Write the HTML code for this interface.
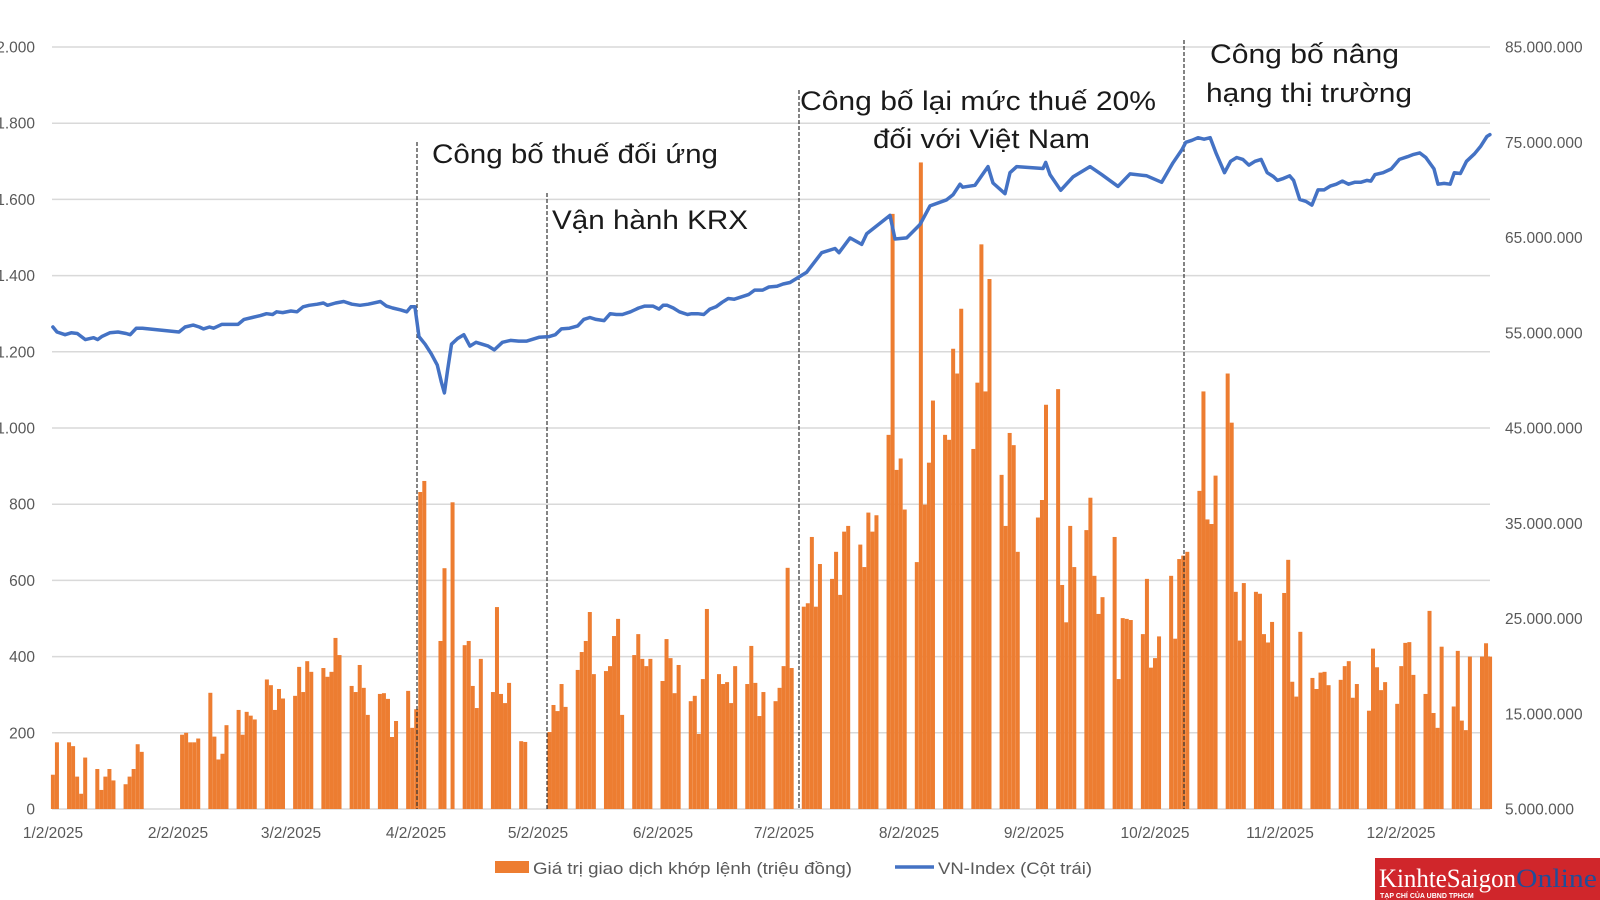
<!DOCTYPE html>
<html><head><meta charset="utf-8">
<style>
html,body{margin:0;padding:0;background:#fff;}
svg{display:block;}
text{font-family:"Liberation Sans","DejaVu Sans",sans-serif;}
</style></head>
<body>
<svg id="c" width="1600" height="900" viewBox="0 0 1600 900" xmlns="http://www.w3.org/2000/svg">
<g id="grid"></g>
<g id="bars" fill="#ED7D31"></g>
<g id="vl" stroke="#333" stroke-width="1.2" stroke-dasharray="4,2"></g>
<polyline id="line" fill="none" stroke="#4472C4" stroke-width="3.5" stroke-linejoin="round" stroke-linecap="round"/>
<g id="lab" fill="#595959" font-size="15.5"></g>
<g fill="#1a1a1a" font-size="27">
<text x="432" y="163" textLength="286" lengthAdjust="spacingAndGlyphs">Công bố thuế đối ứng</text>
<text x="552" y="229" textLength="196" lengthAdjust="spacingAndGlyphs">Vận hành KRX</text>
<text x="800" y="110" textLength="356" lengthAdjust="spacingAndGlyphs">Công bố lại mức thuế 20%</text>
<text x="873" y="148" textLength="217" lengthAdjust="spacingAndGlyphs">đối với Việt Nam</text>
<text x="1210" y="63" textLength="189" lengthAdjust="spacingAndGlyphs">Công bố nâng</text>
<text x="1206" y="102" textLength="206" lengthAdjust="spacingAndGlyphs">hạng thị trường</text>
</g>
<rect x="495" y="861" width="34" height="12" fill="#ED7D31"/>
<text x="533" y="874" font-size="17" fill="#595959" textLength="319" lengthAdjust="spacingAndGlyphs">Giá trị giao dịch khớp lệnh (triệu đồng)</text>
<line x1="895" y1="867" x2="934" y2="867" stroke="#4472C4" stroke-width="3.5"/>
<text x="938" y="874" font-size="17" fill="#595959" textLength="154" lengthAdjust="spacingAndGlyphs">VN-Index (Cột trái)</text>
<rect x="1375" y="858" width="225" height="42" fill="#D0262B"/>
<text x="1379" y="887" style="font-family:'Liberation Serif',serif" font-size="26" fill="#fff" textLength="137" lengthAdjust="spacingAndGlyphs">KinhteSaigon</text>
<text x="1516" y="887" style="font-family:'Liberation Serif',serif" font-size="26" fill="#1F4E9A" textLength="81" lengthAdjust="spacingAndGlyphs">Online</text>
<text x="1380" y="898" font-size="7" fill="#fff" font-weight="bold">TẠP CHÍ CỦA UBND TPHCM</text>
</svg>
<script>
var NS="http://www.w3.org/2000/svg";
function el(p,t,a,txt){var e=document.createElementNS(NS,t);for(var k in a)e.setAttribute(k,a[k]);if(txt!=null)e.textContent=txt;document.getElementById(p).appendChild(e);return e;}
function Y(v){return 809-v*0.381;}
for(var i=0;i<=10;i++){var v=i*200,y=Y(v);
 el("grid","line",{x1:52,x2:1490,y1:y,y2:y,stroke:"#D9D9D9","stroke-width":1.5});
 var s=v>=1000?(Math.floor(v/1000)+"."+("00"+(v%1000)).slice(-3)):String(v);
 el("lab","text",{x:35,y:y+5.5,"text-anchor":"end"},s);}
for(var m=5;m<=85;m+=10){var y=809-(m-5)*9.525;
 el("lab","text",{x:1505,y:y+5.5},m+".000.000");}
var xl=[["1/2/2025",53],["2/2/2025",178],["3/2/2025",291],["4/2/2025",416],["5/2/2025",538],["6/2/2025",663],["7/2/2025",784],["8/2/2025",909],["9/2/2025",1034],["10/2/2025",1155],["11/2/2025",1280],["12/2/2025",1401]];
xl.forEach(function(a){el("lab","text",{x:a[1],y:838,"text-anchor":"middle"},a[0]);});
var W=[[0,0,0,90,175],[175,165,85,40,135],[105,50,85,105,75],[65,85,105,170,150],[0,0,0,0,0],
[195,200,175,175,185],[305,190,130,145,220],[260,195,255,245,235],[340,325,260,315,290],
[297,373,307,388,360],[370,347,360,449,404],[323,307,378,318,247],[302,304,289,189,231],
[310,213,262,832,861],[0,441,632,0,805],[430,441,323,265,394],[307,530,302,278,331],[178,176,0,0,0],
[202,273,257,328,268],[365,412,441,517,354],[362,375,454,499,247],[404,459,394,375,394],
[336,446,396,304,378],[283,297,197,341,525],[354,328,333,278,375],[328,428,331,244,307],
[283,318,375,633,370],[531,540,714,531,643],[604,675,562,728,743],[694,635,778,728,771],
[982,1562,890,920,786],[648,1697,799,909,1072],[982,969,1208,1143,1313],[945,1119,1482,1096,1391],
[877,743,987,955,675],[0,0,765,811,1061],[1102,588,490,743,635],[732,817,612,512,556],
[714,341,501,499,496],[459,604,371,396,453],[612,447,656,665,675],[835,1096,760,748,875],
[1143,1014,570,442,593],[570,565,459,437,491],[567,654,334,295,465],[344,315,358,360,325],
[339,375,388,292,328],[258,421,372,312,333],[276,375,436,438,352],[302,520,252,213,426],
[269,415,232,207,400],[400,435,400,0,0]];
W.forEach(function(w,k){w.forEach(function(v,j){if(!v)return;var d=-1+7*k+j;var x=52.9+(d-2)*4.037;
 el("bars","rect",{x:x-2,y:Y(v),width:4.0,height:809-Y(v)});});});
[[417,142],[547,193],[799,90],[1184,40]].forEach(function(a){el("vl","line",{x1:a[0],x2:a[0],y1:a[1],y2:809});});
var E1=[52,1265,56,1252,64,1245,70,1250,76,1248,80,1240,84,1232,92,1237,96,1232,100,1240,108,1250,116,1252,124,1248,128,1245,134,1262,140,1262,176,1252,182,1265,190,1270,196,1265,200,1260,206,1265,210,1262,218,1272,226,1272,234,1272,240,1285,248,1290,256,1295,262,1300,268,1298,272,1305,278,1303,286,1307,292,1305,298,1318,304,1322,312,1325,318,1328,322,1322,330,1328,338,1332,346,1325,354,1322,362,1325,374,1332,380,1320,386,1315,394,1310,400,1305,404,1318,408,1318,412,1240,418,1220,424,1195,430,1165,434,1120,437,1092,440,1150,444,1220,450,1235,456,1245,462,1215,468,1225,474,1220,480,1215,486,1205,494,1225,502,1230,510,1228,518,1228,530,1238,540,1240,546,1245,552,1260,560,1262,568,1268,574,1285,580,1290,586,1285,594,1282,600,1300,606,1298,612,1298,620,1305,628,1315,634,1320,642,1320,648,1312,652,1322,656,1322,662,1315,668,1305,676,1298,680,1300,686,1300,692,1298,698,1312,704,1318,710,1330,716,1340,722,1338,730,1345,736,1350,742,1362,750,1362,756,1370,764,1372,770,1378];
var T=[790,1382,806.7,1409,821.7,1460,835,1471,839,1460,850,1499,861.7,1482,866.7,1510,890,1558,895,1496,906.7,1499,920,1534,930,1583,946.7,1599,953,1612,960,1640,962.7,1632,975,1637,988,1686,993,1643,1005,1615,1010,1670,1016.7,1686,1043,1681,1045.7,1697,1050,1665,1060.7,1624,1073,1659,1090,1686,1101.7,1665,1118,1634,1130,1667,1146.7,1662,1161.7,1645,1173,1696];
var E2=[1162,1730,1166,1750,1172,1755,1178,1762,1184,1758,1190,1762,1196,1720,1204,1670,1210,1700,1216,1710,1222,1705,1228,1690,1234,1700,1240,1705,1246,1670,1252,1660,1256,1650,1262,1655,1268,1662,1272,1650,1278,1600,1284,1595,1290,1585,1296,1625,1302,1625,1308,1635,1314,1640,1320,1648,1326,1640,1332,1645,1338,1645,1344,1650,1348,1648,1352,1665,1360,1670,1368,1680,1376,1705,1384,1712,1390,1718,1396,1722,1402,1710,1410,1680,1414,1640,1420,1642,1426,1640,1430,1670,1436,1668,1442,1700,1450,1720,1456,1740,1462,1765,1465,1770];
var pts=[];
for(var i=0;i<E1.length;i+=2)pts.push((E1[i]*1.017).toFixed(1)+","+Y(E1[i+1]).toFixed(1));
for(var i=0;i<T.length;i+=2)pts.push(T[i]+","+Y(T[i+1]).toFixed(1));
for(var i=0;i<E2.length;i+=2)pts.push((E2[i]*1.017).toFixed(1)+","+Y(E2[i+1]).toFixed(1));
document.getElementById("line").setAttribute("points",pts.join(" "));
</script>
</body></html>
